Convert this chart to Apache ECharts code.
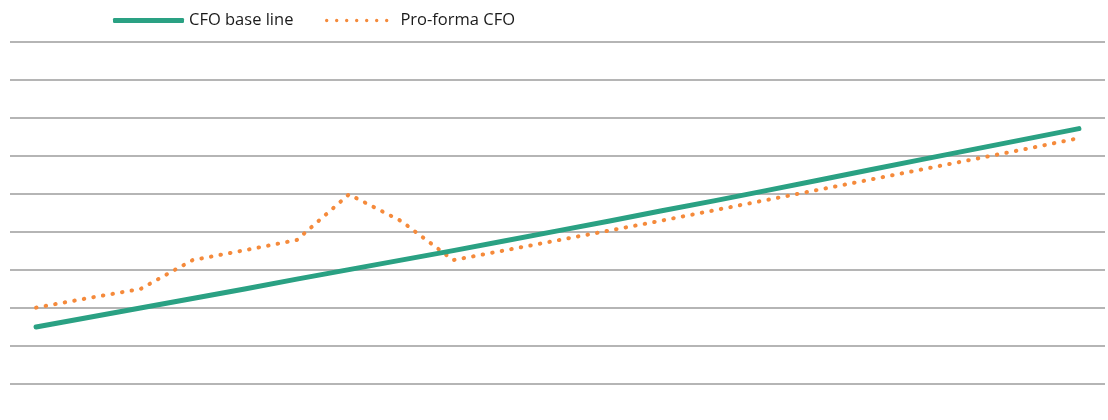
<!DOCTYPE html>
<html>
<head>
<meta charset="utf-8">
<script src="https://cdn.jsdelivr.net/npm/echarts@6/dist/echarts.min.js"></script>
<style>
  html, body { margin: 0; padding: 0; background: #ffffff; }
  #chart { width: 1108px; height: 420px; }
</style>
</head>
<body>
<div id="chart"></div>
<script>
// Periods along the horizontal axis (not labelled on the chart)
const periods = ['1', '2', '3', '4', '5', '6', '7', '8', '9', '10', '11',
                 '12', '13', '14', '15', '16', '17', '18', '19', '20', '21'];

// Cash flow from operations, base case
const cfoBaseLine = [1.50, 1.75, 2.00, 2.25, 2.50, 2.76, 3.01, 3.26, 3.51, 3.77, 4.03,
                     4.29, 4.56, 4.82, 5.09, 5.36, 5.64, 5.91, 6.18, 6.45, 6.72];

// Cash flow from operations, pro-forma
const proFormaCfo = [2.01, 2.26, 2.50, 3.26, 3.52, 3.79, 4.99, 4.29, 3.26, 3.52, 3.78,
                     4.04, 4.30, 4.57, 4.84, 5.11, 5.38, 5.65, 5.92, 6.19, 6.47];

// Value axis range (gridlines only, no labels)
const yMin = 0;
const yMax = 9;
const yStep = 1;

const seriesNames = ['CFO base line', 'Pro-forma CFO'];

const GREEN = '#2aa183';
const ORANGE = '#f58a3b';
const FONT = 'Open Sans, Noto Sans, sans-serif';

// Legend swatch for the dotted series: a row of seven small dots
function dotRowPath(count, r, step) {
  let d = '';
  for (let i = 0; i < count; i++) {
    const cx = r + i * step;
    d += 'M' + (cx - r) + ',' + r +
         ' a' + r + ',' + r + ' 0 1,0 ' + (2 * r) + ',0' +
         ' a' + r + ',' + r + ' 0 1,0 ' + (-2 * r) + ',0 ';
  }
  return 'path://' + d;
}

const legendText = { fontSize: 16.5, color: '#1a1a1a', fontFamily: FONT };

const chart = echarts.init(document.getElementById('chart'), null, { renderer: 'canvas' });

chart.setOption({
  animation: false,
  backgroundColor: '#ffffff',
  textStyle: { fontFamily: FONT },
  legend: [
    {
      left: 113,
      top: 12,
      padding: 0,
      itemWidth: 71,
      itemHeight: 5,
      textStyle: legendText,
      data: [{ name: seriesNames[0], icon: 'roundRect', itemStyle: { color: GREEN } }]
    },
    {
      left: 325,
      top: 12,
      padding: 0,
      itemWidth: 63.4,
      itemHeight: 3.4,
      textStyle: Object.assign({ padding: [0, 0, 0, 7] }, legendText),
      data: [{ name: seriesNames[1], icon: dotRowPath(7, 1.7, 10), itemStyle: { color: ORANGE } }]
    }
  ],
  grid: { left: 10, right: 3, top: 42, bottom: 36, containLabel: false },
  xAxis: {
    type: 'category',
    data: periods,
    boundaryGap: true,
    axisLine: { show: false },
    axisTick: { show: false },
    axisLabel: { show: false },
    splitLine: { show: false }
  },
  yAxis: {
    type: 'value',
    min: yMin,
    max: yMax,
    interval: yStep,
    axisLine: { show: false },
    axisTick: { show: false },
    axisLabel: { show: false },
    splitLine: { show: true, lineStyle: { color: '#9d9d9d', width: 1.5 } }
  },
  series: [
    {
      name: seriesNames[0],
      type: 'line',
      data: cfoBaseLine,
      symbol: 'none',
      z: 3,
      lineStyle: { color: GREEN, width: 5, cap: 'round', join: 'round' },
      itemStyle: { color: GREEN }
    },
    {
      name: seriesNames[1],
      type: 'line',
      data: proFormaCfo,
      symbol: 'none',
      z: 2,
      lineStyle: { color: ORANGE, width: 4, type: [0.5, 9.2], cap: 'round', join: 'round' },
      itemStyle: { color: ORANGE }
    }
  ]
});
</script>
</body>
</html>
